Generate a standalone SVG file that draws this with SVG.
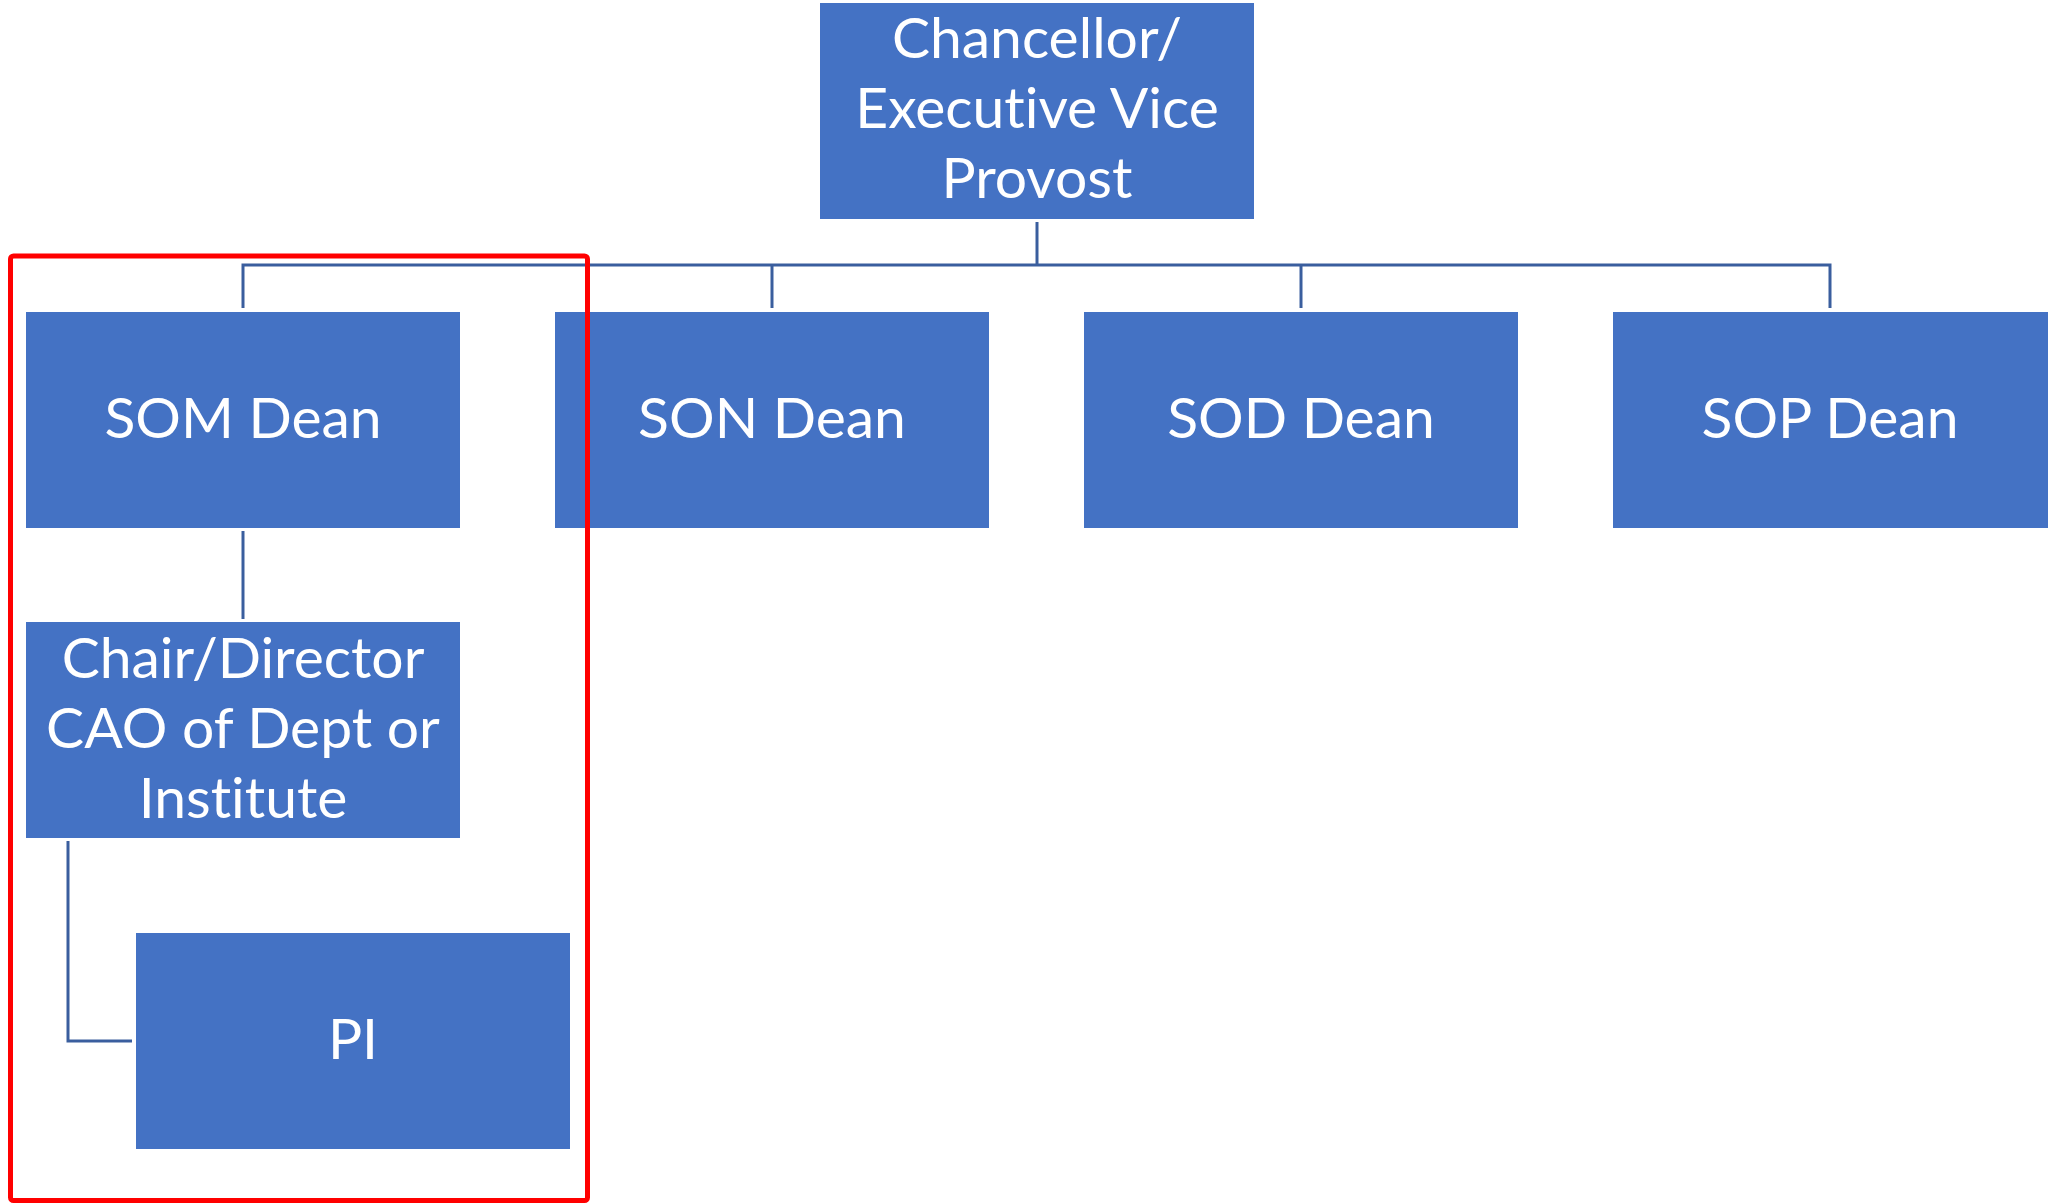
<svg xmlns="http://www.w3.org/2000/svg" width="2048" height="1204" viewBox="0 0 2048 1204">
  <style>
    .box { fill: #4472C4; }
    .label { fill: #FFFFFF; font-family: Lato, "Open Sans", sans-serif; font-size: 57px; text-anchor: middle; font-variant-ligatures: none; }
    .link { fill: none; stroke: #3A5E9E; stroke-width: 3; }
    .frame { fill: none; stroke: #FF0000; stroke-width: 5; }
  </style>
  <rect width="2048" height="1204" fill="#FFFFFF"/>

  <!-- connectors -->
  <g id="connectors">
    <path class="link" d="M1037 222 V265"/>
    <path class="link" d="M243 308 V265 H1830 V308"/>
    <path class="link" d="M772 265 V308"/>
    <path class="link" d="M1301 265 V308"/>
    <path class="link" d="M243 531 V619"/>
    <path class="link" d="M68 841 V1041 H132"/>
  </g>

  <g id="chancellor">
    <rect class="box" x="820" y="3" width="434" height="216"/>
    <text class="label" x="1037" y="58">Chancellor/</text>
    <text class="label" x="1037" y="128">Executive Vice</text>
    <text class="label" x="1037" y="198">Provost</text>
  </g>

  <g id="som-dean">
    <rect class="box" x="26" y="312" width="434" height="216"/>
    <text class="label" x="243" y="438">SOM Dean</text>
  </g>

  <g id="son-dean">
    <rect class="box" x="555" y="312" width="434" height="216"/>
    <text class="label" x="772" y="438">SON Dean</text>
  </g>

  <g id="sod-dean">
    <rect class="box" x="1084" y="312" width="434" height="216"/>
    <text class="label" x="1301" y="438">SOD Dean</text>
  </g>

  <g id="sop-dean">
    <rect class="box" x="1613" y="312" width="435" height="216"/>
    <text class="label" x="1830" y="438">SOP Dean</text>
  </g>

  <g id="chair-director">
    <rect class="box" x="26" y="622" width="434" height="216"/>
    <text class="label" x="243" y="678">Chair/Director</text>
    <text class="label" x="243" y="748">CAO of Dept or</text>
    <text class="label" x="243" y="818">Institute</text>
  </g>

  <g id="pi">
    <rect class="box" x="136" y="933" width="434" height="216"/>
    <text class="label" x="353" y="1059">PI</text>
  </g>

  <!-- highlight around the School of Medicine branch -->
  <rect class="frame" x="10.5" y="256" width="577" height="944.5" rx="3"/>
</svg>
